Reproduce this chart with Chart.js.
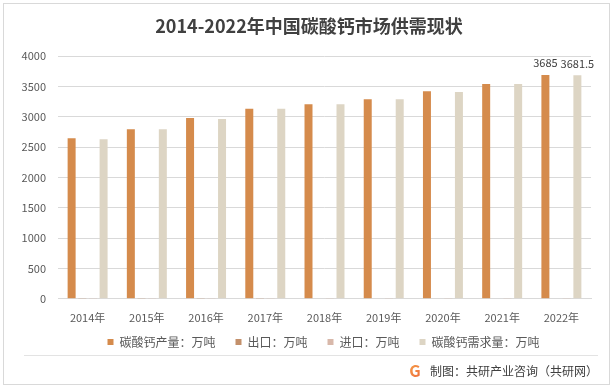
<!DOCTYPE html>
<html>
<head>
<meta charset="utf-8">
<script src="https://cdn.jsdelivr.net/npm/chart.js@4.4.1/dist/chart.umd.min.js"></script>
<style>
html,body{margin:0;padding:0;background:#fff;}
#wrap{position:relative;width:615px;height:389px;}
</style>
</head>
<body>
<div id="wrap"><canvas id="c" width="615" height="389"></canvas></div>
<script>
const categories = ['2014年','2015年','2016年','2017年','2018年','2019年','2020年','2021年','2022年'];
const production = [2645, 2795, 2978, 3129, 3207, 3289, 3421, 3537, 3685];
const exportsV = [6, 6, 7, 7, 8, 8, 9, 9, 10];
const importsV = [4, 4, 4, 5, 5, 5, 6, 6, 6];
const demand = [2628, 2795, 2962, 3129, 3207, 3289, 3405, 3537, 3681.5];
const seriesNames = ['碳酸钙产量：万吨','出口：万吨','进口：万吨','碳酸钙需求量：万吨'];
const seriesColors = ['#D58B4C','#C3906B','#D8B8AA','#DDD5C4'];
const yTicks = [0,500,1000,1500,2000,2500,3000,3500,4000];

const FONT = "'Noto Sans CJK SC','Noto Sans',sans-serif";

const decor = {
  id:'decor',
  afterLayout(chart){
    const lg = chart.legend;
    if(!lg) return;
    const dy = 316 - lg.top;
    lg.top += dy; lg.bottom += dy;
    const dx = 28;
    lg.left += dx; lg.right += dx;
  },
  beforeDraw(chart){
    const ctx = chart.ctx;
    ctx.save();
    ctx.fillStyle='#fff';
    ctx.fillRect(0,0,chart.width,chart.height);
    ctx.strokeStyle='#D9D9D9';
    ctx.lineWidth=1;
    ctx.strokeRect(3.5,3.5,606,381);
    ctx.restore();
  },
  afterDraw(chart){
    const ctx = chart.ctx;
    ctx.save();
    // title
    ctx.fillStyle='#404040';
    ctx.font="bold 18px "+FONT;
    ctx.textAlign='center';
    ctx.textBaseline='middle';
    ctx.fillText('2014-2022年中国碳酸钙市场供需现状',309,26);
    // data labels for last category
    ctx.font="11px "+FONT;
    ctx.fillStyle='#404040';
    ctx.textBaseline='middle';
    [0,3].forEach(di=>{
      const meta = chart.getDatasetMeta(di);
      const idx = categories.length-1;
      const el = meta.data[idx];
      const v = chart.data.datasets[di].data[idx];
      ctx.fillText(String(v), el.x, el.y-12);
    });
    // separator
    ctx.strokeStyle='#E3E3E3';
    ctx.beginPath();
    ctx.moveTo(24,355.5);ctx.lineTo(598,355.5);
    ctx.stroke();
    // footer logo
    const g = ctx.createLinearGradient(408,364,422,378);
    g.addColorStop(0,'#F5A04A');g.addColorStop(1,'#EE6A3A');
    ctx.fillStyle=g;
    ctx.font="bold 16px "+FONT;
    ctx.textAlign='center';
    ctx.textBaseline='middle';
    ctx.fillText('G',415,371);
    // footer text
    ctx.fillStyle='#404040';
    ctx.font="12px "+FONT;
    ctx.textAlign='left';
    ctx.fillText('制图：共研产业咨询（共研网）',430,371);
    ctx.restore();
  }
};

new Chart(document.getElementById('c'),{
  type:'bar',
  data:{
    labels:categories,
    datasets:[
      {label:seriesNames[0],data:production,backgroundColor:seriesColors[0]},
      {label:seriesNames[1],data:exportsV,backgroundColor:seriesColors[1]},
      {label:seriesNames[2],data:importsV,backgroundColor:seriesColors[2]},
      {label:seriesNames[3],data:demand,backgroundColor:seriesColors[3]}
    ]
  },
  options:{
    responsive:false,
    animation:false,
    datasets:{bar:{categoryPercentage:0.72,barPercentage:0.75}},
    layout:{padding:{left:0,right:24,top:56,bottom:11}},
    plugins:{
      title:{display:false},
      tooltip:{enabled:false},
      legend:{
        position:'bottom',
        labels:{
          boxWidth:6,boxHeight:6,padding:20,
          color:'#595959',
          font:{family:FONT,size:12}
        }
      }
    },
    scales:{
      x:{
        grid:{display:false,drawTicks:false},
        border:{display:true,color:'#D9D9D9'},
        ticks:{color:'#595959',font:{family:FONT,size:11},padding:12,maxRotation:0},
      },
      y:{
        min:0,max:4000,
        afterFit(s){s.width=58;},
        afterBuildTicks(s){s.ticks=yTicks.map(v=>({value:v}));},
        grid:{color:'#D9D9D9',drawTicks:false},
        border:{display:false},
        ticks:{color:'#595959',font:{family:FONT,size:11},padding:12,callback:(v)=>String(v)}
      }
    }
  },
  plugins:[decor]
});
</script>
</body>
</html>
